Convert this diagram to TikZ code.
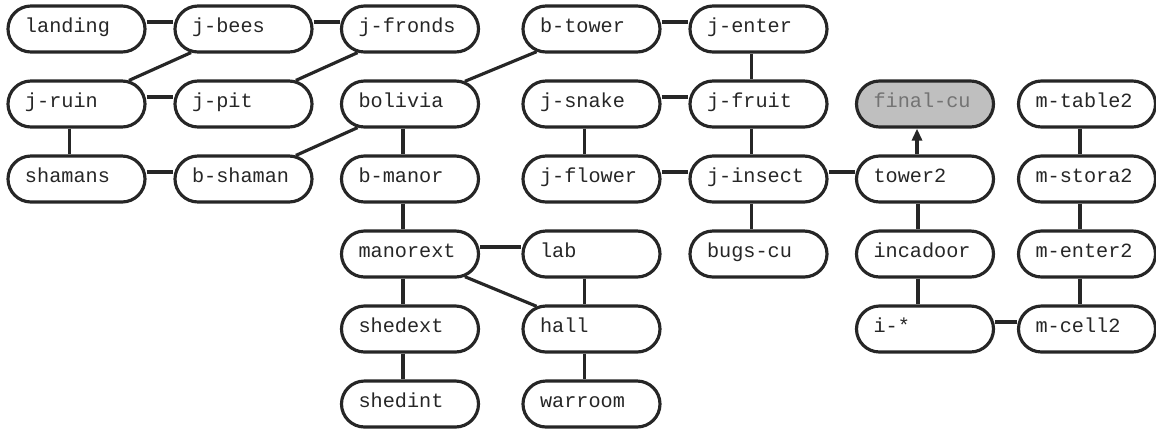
\documentclass[tikz,border=0pt]{standalone}
\usepackage{fontspec}
\setmonofont{Liberation Mono}
\usetikzlibrary{shapes.misc,arrows.meta}

\tikzset{
  room/.style={rounded rectangle, draw=black!85, line width=1.8pt,
    minimum height=0.92cm, minimum width=2.74cm, text width=2.06cm,
    inner xsep=0pt, align=left, text height=1.45ex, text depth=0.6ex,
    text=black!85, font=\ttfamily\fontsize{11.5pt}{13pt}\selectfont},
  goal/.style={room, fill=black!25, text=black!55},
  link/.style={draw=black!85, line width=1.8pt},
}

\begin{document}
\begin{tikzpicture}
    \useasboundingbox (0,0) rectangle (23.12,-8.56);
    % Draw the jungle rooms.
    \node[room] (landing) at (1.53,-0.58) {landing};
    \node[room] (jbees) at (4.87,-0.58) {j-bees};
    \node[room] (jfronds) at (8.20,-0.58) {j-fronds};
    \node[room] (jruin) at (1.53,-2.08) {j-ruin};
    \node[room] (jpit) at (4.87,-2.08) {j-pit};
    \node[room] (shamans) at (1.53,-3.58) {shamans};
    \node[room] (bshaman) at (4.87,-3.58) {b-shaman};
    % Draw the bolivia rooms.
    \node[room] (bolivia) at (8.20,-2.08) {bolivia};
    \node[room] (bmanor) at (8.20,-3.58) {b-manor};
    \node[room] (manorext) at (8.20,-5.08) {manorext};
    \node[room] (shedext) at (8.20,-6.58) {shedext};
    \node[room] (shedint) at (8.20,-8.08) {shedint};
    \node[room] (lab) at (11.83,-5.08) {lab};
    \node[room] (hall) at (11.83,-6.58) {hall};
    \node[room] (warroom) at (11.83,-8.08) {warroom};
    \node[room] (btower) at (11.83,-0.58) {b-tower};
    % Draw the temple rooms.
    \node[room] (jenter) at (15.17,-0.58) {j-enter};
    \node[room] (jsnake) at (11.83,-2.08) {j-snake};
    \node[room] (jfruit) at (15.17,-2.08) {j-fruit};
    \node[room] (jflower) at (11.83,-3.58) {j-flower};
    \node[room] (jinsect) at (15.17,-3.58) {j-insect};
    \node[room] (bugscu) at (15.17,-5.08) {bugs-cu};
    \node[goal] (finalcu) at (18.50,-2.08) {final-cu};
    \node[room] (tower) at (18.50,-3.58) {tower2};
    \node[room] (incadoor) at (18.50,-5.08) {incadoor};
    \node[room] (istar) at (18.50,-6.58) {i-*};
    % Draw the mine rooms.
    \node[room] (mtable) at (21.74,-2.08) {m-table2};
    \node[room] (mstora) at (21.74,-3.58) {m-stora2};
    \node[room] (menter) at (21.74,-5.08) {m-enter2};
    \node[room] (mcell) at (21.74,-6.58) {m-cell2};

    % Side links sit a little above the middle.
    \draw[link] ([yshift=0.14cm]landing.east) -- ([yshift=0.14cm]jbees.west);
    \draw[link] ([yshift=0.14cm]jbees.east) -- ([yshift=0.14cm]jfronds.west);
    \draw[link] ([yshift=0.14cm]jruin.east) -- ([yshift=0.14cm]jpit.west);
    \draw[link] ([yshift=0.14cm]shamans.east) -- ([yshift=0.14cm]bshaman.west);
    \draw[link] ([yshift=0.14cm]btower.east) -- ([yshift=0.14cm]jenter.west);
    \draw[link] ([yshift=0.14cm]jsnake.east) -- ([yshift=0.14cm]jfruit.west);
    \draw[link] ([yshift=0.14cm]jflower.east) -- ([yshift=0.14cm]jinsect.west);
    \draw[link] ([yshift=0.14cm]jinsect.east) -- ([yshift=0.14cm]tower.west);
    \draw[link] ([yshift=0.14cm]manorext.east) -- ([yshift=0.14cm]lab.west);
    \draw[link] ([yshift=0.14cm]istar.east) -- ([yshift=0.14cm]mcell.west);
    % Down links sit a little left of the middle.
    \draw[link] ([xshift=-0.14cm]jruin.south) -- ([xshift=-0.14cm]shamans.north);
    \draw[link] ([xshift=-0.14cm]bolivia.south) -- ([xshift=-0.14cm]bmanor.north);
    \draw[link] ([xshift=-0.14cm]bmanor.south) -- ([xshift=-0.14cm]manorext.north);
    \draw[link] ([xshift=-0.14cm]manorext.south) -- ([xshift=-0.14cm]shedext.north);
    \draw[link] ([xshift=-0.14cm]shedext.south) -- ([xshift=-0.14cm]shedint.north);
    \draw[link] ([xshift=-0.14cm]lab.south) -- ([xshift=-0.14cm]hall.north);
    \draw[link] ([xshift=-0.14cm]hall.south) -- ([xshift=-0.14cm]warroom.north);
    \draw[link] ([xshift=-0.14cm]jenter.south) -- ([xshift=-0.14cm]jfruit.north);
    \draw[link] ([xshift=-0.14cm]jsnake.south) -- ([xshift=-0.14cm]jflower.north);
    \draw[link] ([xshift=-0.14cm]jfruit.south) -- ([xshift=-0.14cm]jinsect.north);
    \draw[link] ([xshift=-0.14cm]jinsect.south) -- ([xshift=-0.14cm]bugscu.north);
    \draw[link] ([xshift=-0.14cm]tower.south) -- ([xshift=-0.14cm]incadoor.north);
    \draw[link] ([xshift=-0.14cm]incadoor.south) -- ([xshift=-0.14cm]istar.north);
    \draw[link] ([xshift=-0.14cm]mtable.south) -- ([xshift=-0.14cm]mstora.north);
    \draw[link] ([xshift=-0.14cm]mstora.south) -- ([xshift=-0.14cm]menter.north);
    \draw[link] ([xshift=-0.14cm]menter.south) -- ([xshift=-0.14cm]mcell.north);
    % Slanted links go centre to centre.
    \draw[link] (jbees) -- (jruin);
    \draw[link] (jfronds) -- (jpit);
    \draw[link] (bshaman) -- (bolivia);
    \draw[link] (bolivia) -- (btower);
    \draw[link] (manorext) -- (hall);
    % The way out.
    \draw[link, -{Triangle[length=0.24cm,width=0.2cm]}] ([xshift=-0.16cm]tower.north) -- ([xshift=-0.16cm]finalcu.south);
\end{tikzpicture}
\end{document}
